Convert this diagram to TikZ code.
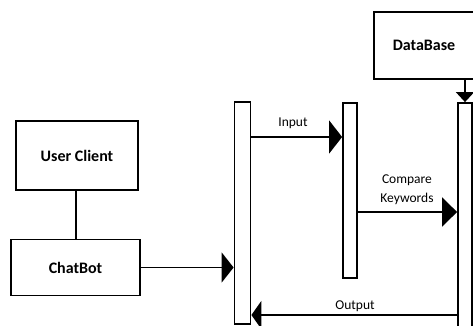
\documentclass[tikz,border=0pt]{standalone}
\usepackage{fontspec}
\setmainfont{Carlito}
\usetikzlibrary{arrows.meta}
\tikzset{
  box/.style={draw=black, line width=1.8pt, fill=white, inner sep=0pt,
    font=\fontsize{16}{18}\selectfont\bfseries},
  bar/.style={draw=black, line width=1.8pt, fill=white, inner sep=0pt,
    minimum width=14pt},
  msg/.style={line width=1.8pt},
  lbl/.style={font=\fontsize{13.5}{15}\selectfont, inner sep=0pt},
}
\begin{document}
\begin{tikzpicture}[x=1pt, y=-1pt]
  \useasboundingbox (0,0) rectangle (473,326);
  \clip (0,0) rectangle (473,326);

  % actors
  \node[box, minimum width=122pt, minimum height=69pt] (user) at (77,155.5) {User Client};
  \node[box, minimum width=129pt, minimum height=56pt] (bot) at (75.5,267.5) {ChatBot};
  \node[box, minimum width=100pt, minimum height=67pt] (db) at (424,45.5) {DataBase};

  % activation bars
  \node[bar, minimum width=16pt, minimum height=222pt] (left) at (242.5,213) {};
  \node[bar, minimum height=175pt] (mid) at (350,190.5) {};
  \node[bar, minimum height=240pt] (right) at (465,223) {};

  % connectors
  \draw[msg] (user.south -| 76,0) -- (bot.north -| 76,0);
  \draw[msg, -{Triangle[length=12pt, width=30pt]}] (bot.east) -- (left.west |- bot.east);
  \draw[msg, -{Triangle[length=10pt, width=18pt]}] (db.south -| right.north) -- (right.north);

  \coordinate (inY) at (0,137);
  \coordinate (cmpY) at (0,212);
  \coordinate (outY) at (0,315);
  \draw[msg, -{Triangle[length=13pt, width=33pt]}] (left.east |- inY) -- (mid.west |- inY);
  \draw[msg, -{Triangle[length=15pt, width=29pt]}] (mid.east |- cmpY) -- (right.west |- cmpY);
  \draw[msg, -{Triangle[length=10pt, width=28pt]}] (right.west |- outY) -- (left.east |- outY);

  % message labels
  \node[lbl] (lin) at (293,123) {Input};
  \node[lbl] (lcmp1) at (407,180) {Compare};
  \node[lbl] (lcmp2) at (407,199) {Keywords};
  \node[lbl] (lout) at (355,306) {Output};
\end{tikzpicture}
\end{document}
